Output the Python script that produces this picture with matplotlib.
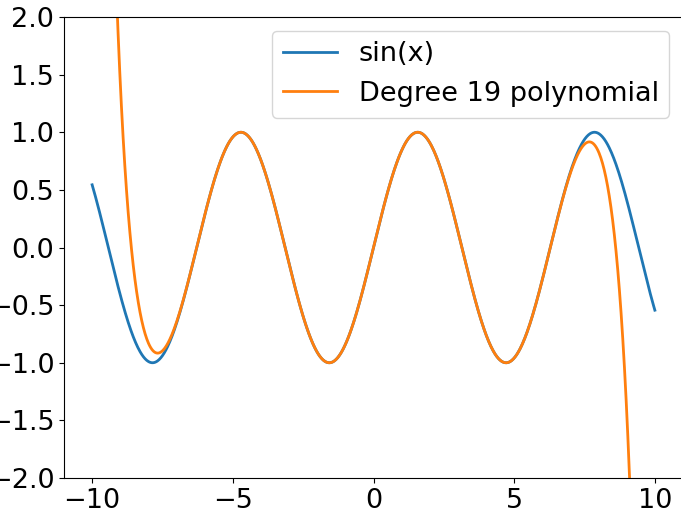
import numpy as np
import matplotlib
matplotlib.use("Agg")
import matplotlib.pyplot as plt

# Odd-power coefficients of the degree-19 Maclaurin polynomial for sin(x): x^1, x^3, ..., x^19
powers = [1, 3, 5, 7, 9, 11, 13, 15, 17, 19]
coeffs = [1.0, -1.6666666666666666e-01, 8.3333333333333332e-03, -1.9841269841269841e-04,
          2.7557319223985893e-06, -2.5052108385441720e-08, 1.6059043836821613e-10,
          -7.6471637318198164e-13, 2.8114572543455206e-15, -8.2206352466243295e-18]

x_min, x_max = -10.0, 10.0
x = np.linspace(x_min, x_max, 1000)

poly = np.zeros(20)
for p, c in zip(powers, coeffs):
    poly[19 - p] = c
y_sin = np.sin(x)
y_poly = np.polyval(poly, x)

plt.rcParams["font.size"] = 19.5

fig = plt.figure(figsize=(6.81, 5.14), dpi=100)
ax = fig.add_axes([64 / 681, 36 / 514, 619 / 681, 461 / 514])
ax.plot(x, y_sin, label="sin(x)", lw=2)
ax.plot(x, y_poly, label="Degree 19 polynomial", lw=2)
ax.set_ylim(-2, 2)
ax.set_yticks(np.arange(-2, 2.01, 0.5))
ax.legend(loc="upper right")

fig.savefig("out.png", dpi=100)
